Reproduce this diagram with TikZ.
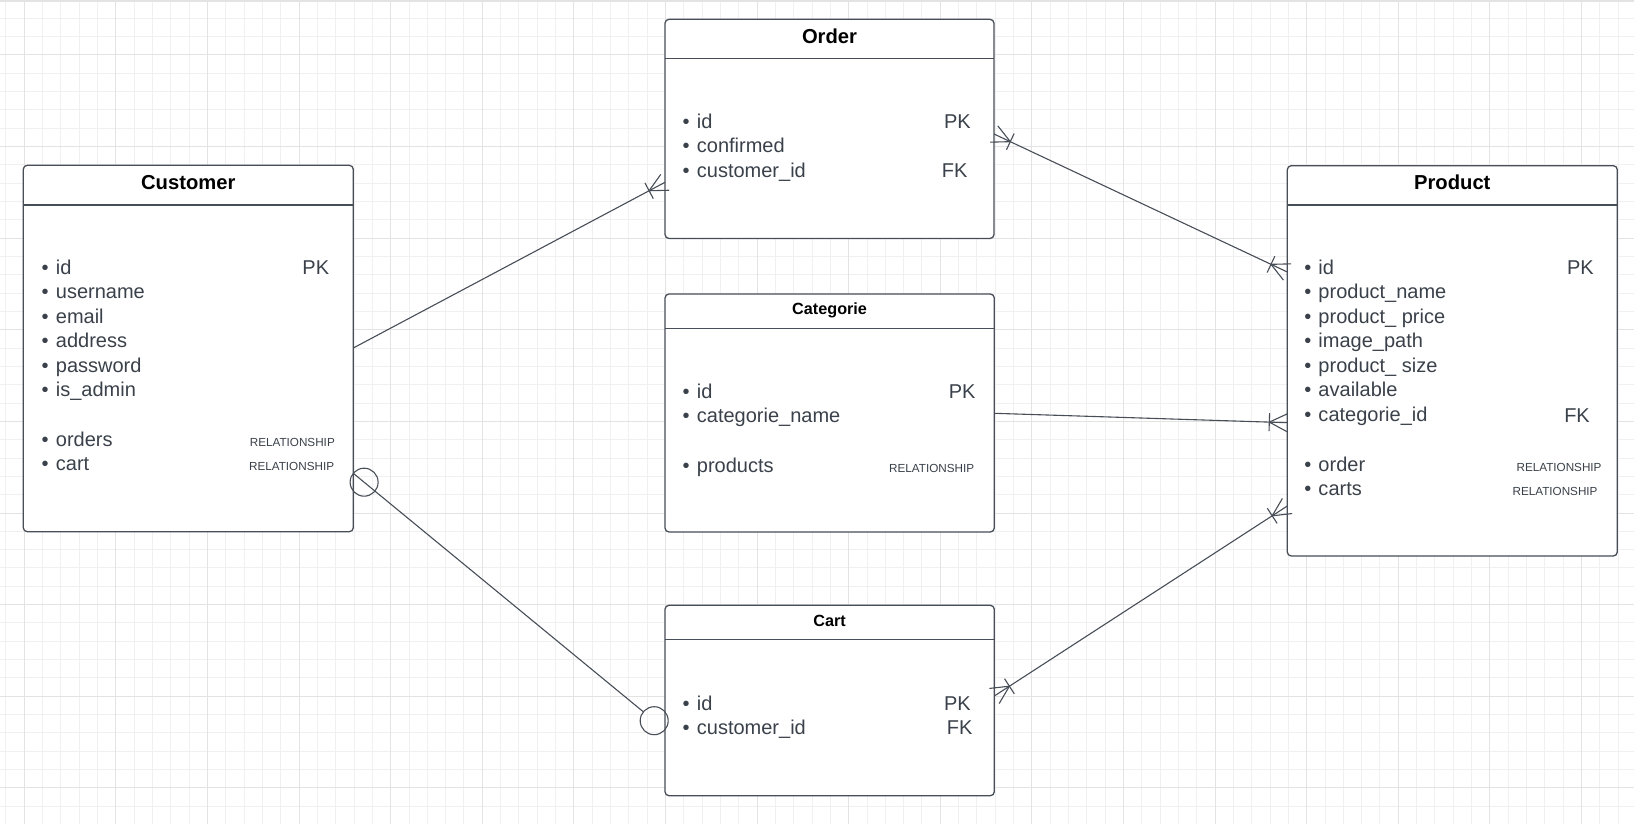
\documentclass[tikz,border=0pt]{standalone}
\usepackage{fontspec}
\setmainfont{Liberation Sans}
\usetikzlibrary{calc}
\definecolor{gridminor}{HTML}{F0F0F0}
\definecolor{gridmajor}{HTML}{E3E3E3}
\definecolor{ink}{HTML}{474E57}
\definecolor{txt}{HTML}{3A414A}

\tikzset{
  entity/.style={draw=ink, line width=1.3pt, rounded corners=4pt, fill=white,
    inner sep=0pt, outer sep=0pt, anchor=north west},
  rule/.style={draw=ink, line width=1.3pt},
  conn/.style={draw=ink, line width=1.1pt},
  title/.style={font=\bfseries\fontsize{20.2}{24}\selectfont, text=black, inner sep=0pt, anchor=base},
  smalltitle/.style={font=\bfseries\fontsize{16.2}{20}\selectfont, text=black, inner sep=0pt, anchor=base},
  field/.style={font=\fontsize{20}{24}\selectfont, text=txt, inner sep=0pt, anchor=base west},
  key/.style={font=\fontsize{20}{24}\selectfont, text=txt, inner sep=0pt, anchor=base east},
  rel/.style={font=\fontsize{11.7}{14}\selectfont, text=txt, inner sep=0pt, anchor=base east},
}

% bulleted attribute rows: name prefix, x, first baseline, list
\newcommand\fields[4]{%
  \foreach \f [count=\i from 0] in {#4} {%
    \node[field] (#1-\i) at (#2, {#3+24.5*\i}) {•\hspace{7.2pt}\f};}}

% "one or many" end: #1 = end on the entity, #2 = where the line comes from
\newcommand\crowsfoot[2]{%
  \coordinate (cfbase) at ($(#1)!18pt!(#2)$);
  \draw[conn] (cfbase) -- ($(#1)!9pt!90:(#2)$)
              (cfbase) -- ($(#1)!9pt!-90:(#2)$);
  \draw[conn] ($(cfbase)!9pt!90:(#1)$) -- ($(cfbase)!9pt!-90:(#1)$);}

\begin{document}
\begin{tikzpicture}[x=1pt,y=-1pt]
\useasboundingbox (0,0) rectangle (1634,824);
\fill[white] (0,0) rectangle (1634,824);

% background grid
\foreach \k in {0,...,89}
  \draw[gridminor, line width=1pt] ({5.98+18.32*\k},0) -- ({5.98+18.32*\k},824);
\foreach \k in {0,...,45}
  \draw[gridminor, line width=1pt] (0,{0.04+18.32*\k}) -- (1634,{0.04+18.32*\k});
\foreach \k in {0,...,17}
  \draw[gridmajor, line width=1pt] ({24.3+91.6*\k},0) -- ({24.3+91.6*\k},824);
\foreach \k in {0,...,8}
  \draw[gridmajor, line width=1pt] (0,{55+91.6*\k}) -- (1634,{55+91.6*\k});
\draw[gridmajor, line width=2.5pt] (0,0.6) -- (1634,0.6);

% entity boxes
\node[entity, minimum width=330pt, minimum height=366.4pt] (customer) at (23.3,165.3) {};
\node[entity, minimum width=329pt, minimum height=219.2pt] (order) at (665,19.3) {};
\node[entity, minimum width=329.3pt, minimum height=238pt] (categorie) at (665,294) {};
\node[entity, minimum width=329.3pt, minimum height=190.4pt] (cart) at (665,605.3) {};
\node[entity, minimum width=330pt, minimum height=390.3pt] (product) at (1287.3,165.7) {};

% header rules
\draw[rule] ([yshift=-39.7pt]customer.north west) -- ([yshift=-39.7pt]customer.north east);
\draw[rule] ([yshift=-39pt]order.north west) -- ([yshift=-39pt]order.north east);
\draw[rule] ([yshift=-34.3pt]categorie.north west) -- ([yshift=-34.3pt]categorie.north east);
\draw[rule] ([yshift=-34.2pt]cart.north west) -- ([yshift=-34.2pt]cart.north east);
\draw[rule] ([yshift=-39.3pt]product.north west) -- ([yshift=-39.3pt]product.north east);

% titles
\node[title] (customer-title) at (188.3,189.3) {Customer};
\node[title] (order-title) at (829.5,43.3) {Order};
\node[smalltitle] (categorie-title) at (829.6,314.3) {Categorie};
\node[smalltitle] (cart-title) at (829.6,626) {Cart};
\node[title] (product-title) at (1452.3,189.3) {Product};

% Customer
\fields{cu}{41.5}{274.3}{id,username,email,address,password,is\_admin}
\fields{cur}{41.5}{446}{orders,cart}
\node[key] (cu-pk) at (329.3,274.3) {PK};
\node[rel] (cu-rel1) at (335,446) {RELATIONSHIP};
\node[rel] (cu-rel2) at (334.3,470.5) {RELATIONSHIP};

% Order
\fields{or}{682.5}{128.3}{id,confirmed,customer\_id}
\node[key] (or-pk) at (971,128.3) {PK};
\node[key] (or-fk) at (967.7,177.3) {FK};

% Categorie
\fields{ca}{682.5}{398.3}{id,categorie\_name}
\fields{car}{682.5}{472.2}{products}
\node[key] (ca-pk) at (975.7,398.3) {PK};
\node[rel] (ca-rel) at (974.3,472.5) {RELATIONSHIP};

% Cart
\fields{ct}{682.5}{710}{id,customer\_id}
\node[key] (ct-pk) at (971,710) {PK};
\node[key] (ct-fk) at (972.7,734.3) {FK};

% Product
\fields{pr}{1304.1}{274.3}{id,product\_name,product\_ price,image\_path,product\_ size,available,categorie\_id}
\fields{prr}{1304.1}{471}{order,carts}
\node[key] (pr-pk) at (1594,274.3) {PK};
\node[key] (pr-fk) at (1590,422.7) {FK};
\node[rel] (pr-rel1) at (1601.7,471) {RELATIONSHIP};
\node[rel] (pr-rel2) at (1597.7,495.5) {RELATIONSHIP};

% attachment points
\coordinate (a1) at ([yshift=-182.7pt]customer.north east);
\coordinate (a2) at ([yshift=-163pt]order.north west);
\coordinate (b1) at ([yshift=-114.7pt]order.north east);
\coordinate (b2) at ([yshift=-106.3pt]product.north west);
\coordinate (c1) at ([yshift=-119.3pt]categorie.north east);
\coordinate (c2) at ([yshift=-257pt]product.north west);
\coordinate (d1) at ([yshift=-90.7pt]cart.north east);
\coordinate (d2) at ([yshift=-340.3pt]product.north west);
\coordinate (e1) at ([yshift=-308pt]customer.north east);
\coordinate (e2) at ([yshift=-124.3pt]cart.north west);

% relationships
\draw[conn] (a1) -- (a2);
\crowsfoot{a2}{a1}
\draw[conn] (b1) -- (b2);
\crowsfoot{b1}{b2}
\crowsfoot{b2}{b1}
\draw[conn] (c1) -- (c2);
\crowsfoot{c2}{c1}
\draw[conn] (d1) -- (d2);
\crowsfoot{d1}{d2}
\crowsfoot{d2}{d1}
\draw[conn] (e1) -- ($(e2)!28pt!(e1)$);
\draw[conn] ($(e1)!14pt!(e2)$) circle[radius=14pt];
\draw[conn] ($(e2)!14pt!(e1)$) circle[radius=14pt];
\end{tikzpicture}
\end{document}
